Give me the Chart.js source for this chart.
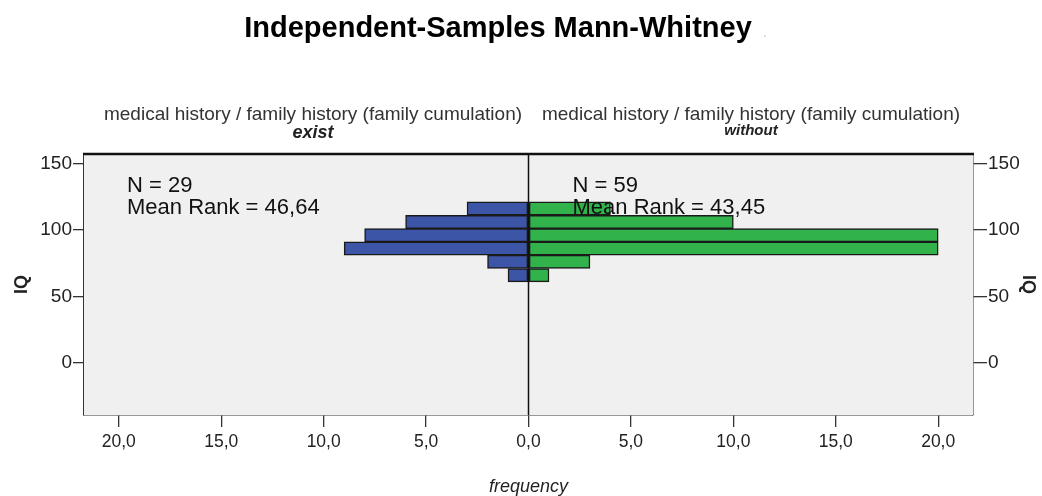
<!DOCTYPE html>
<html>
<head>
<meta charset="utf-8">
<script src="https://cdn.jsdelivr.net/npm/chart.js@4"></script>
<style>
  html, body { margin: 0; padding: 0; background: #fff; }
  #wrap { width: 1042px; height: 496px; }
</style>
</head>
<body>
<div id="wrap"><canvas id="myChart"></canvas></div>
<script>
// Data
const iqBins = [66, 76, 86, 96, 106, 116];       // IQ class midpoints (width 10)
const existCounts = [1, 2, 9, 8, 6, 3];           // family history: exist
const withoutCounts = [1, 3, 20, 20, 10, 4];      // family history: without
const freqTicks = [-20, -15, -10, -5, 0, 5, 10, 15, 20];
const iqTicks = [0, 50, 100, 150];
const groupStats = [
  { n: 'N = 29', rank: 'Mean Rank = 46,64' },
  { n: 'N = 59', rank: 'Mean Rank = 43,45' },
];

const FONT = "'Liberation Sans', Arial, sans-serif";

// background, frame, centre line and the texts around the plot
const decor = {
  id: 'decor',
  beforeDatasetsDraw(chart) {
    const { ctx, chartArea: a } = chart;
    ctx.save();
    ctx.fillStyle = '#f0f0f0';
    ctx.fillRect(a.left, a.top, a.right - a.left, a.bottom - a.top);
    ctx.restore();
  },
  afterDatasetsDraw(chart) {
    const { ctx, chartArea: a, scales } = chart;
    const x0 = scales.x.getPixelForValue(0);
    ctx.save();
    // zero line
    ctx.strokeStyle = '#111';
    ctx.lineWidth = 1.5;
    ctx.beginPath();
    ctx.moveTo(x0, a.top);
    ctx.lineTo(x0, a.bottom);
    ctx.stroke();
    // top frame line
    ctx.lineWidth = 2.5;
    ctx.beginPath();
    ctx.moveTo(a.left - 1, a.top);
    ctx.lineTo(a.right + 1, a.top);
    ctx.stroke();

    // N / mean rank
    ctx.fillStyle = '#111';
    ctx.font = '22px ' + FONT;
    ctx.textAlign = 'left';
    ctx.textBaseline = 'alphabetic';
    const lefts = [a.left + 43, x0 + 44];
    groupStats.forEach((g, i) => {
      ctx.fillText(g.n, lefts[i], 192);
      ctx.fillText(g.rank, lefts[i], 214);
    });
    ctx.restore();
  },
  afterDraw(chart) {
    const { ctx } = chart;
    ctx.save();
    ctx.textAlign = 'center';
    ctx.textBaseline = 'alphabetic';
    ctx.fillStyle = '#000';
    ctx.font = 'bold 29px ' + FONT;
    ctx.fillText('Independent-Samples Mann-Whitney', 498, 37);
    ctx.fillStyle = '#bbb';
    ctx.font = '12px ' + FONT;
    ctx.fillText('.', 765, 37);

    ctx.fillStyle = '#333';
    ctx.font = '19px ' + FONT;
    ctx.fillText('medical history / family history (family cumulation)', 313, 120);
    ctx.fillText('medical history / family history (family cumulation)', 751, 120);
    ctx.fillStyle = '#222';
    ctx.font = 'italic bold 18px ' + FONT;
    ctx.fillText('exist', 313, 138);
    ctx.font = 'italic bold 15px ' + FONT;
    ctx.fillText('without', 751, 135);
    ctx.restore();
  },
};

const data = {
  datasets: [
    {
      label: 'exist',
      data: iqBins.map((iq, i) => ({ x: -existCounts[i], y: iq })),
      backgroundColor: '#3c55a6',
    },
    {
      label: 'without',
      data: iqBins.map((iq, i) => ({ x: withoutCounts[i], y: iq })),
      backgroundColor: '#31b24b',
    },
  ],
};

const tickFont = { family: FONT, size: 19 };

const config = {
  type: 'bar',
  data,
  plugins: [decor],
  options: {
    indexAxis: 'y',
    responsive: true,
    maintainAspectRatio: false,
    animation: false,
    layout: { padding: { top: 154, left: 0, right: 0, bottom: 0 } },
    datasets: {
      bar: {
        grouped: false,
        barPercentage: 1,
        categoryPercentage: 1,
        borderColor: '#1a1a1a',
        borderWidth: 1.5,
        borderSkipped: false,
      },
    },
    plugins: {
      legend: { display: false },
      tooltip: { enabled: false },
    },
    scales: {
      x: {
        type: 'linear',
        min: -21.7,
        max: 21.7,
        offset: false,
        afterBuildTicks: (s) => { s.ticks = freqTicks.map((v) => ({ value: v })); },
        afterFit: (s) => { s.height = 81; },
        ticks: {
          color: '#222',
          font: { family: FONT, size: 17.5 },
          padding: 5,
          maxRotation: 0,
          callback: (v) => Math.abs(v).toFixed(1).replace('.', ','),
        },
        grid: { offset: false, drawOnChartArea: false, color: '#333', tickLength: 12, lineWidth: 1.3 },
        border: { color: '#333', width: 1.5 },
        title: {
          display: true,
          text: 'frequency',
          color: '#222',
          font: { family: FONT, size: 18, style: 'italic', lineHeight: 1 },
          padding: { top: 0, bottom: 0 },
        },
      },
      y: {
        type: 'linear',
        position: 'left',
        min: -39,
        max: 157,
        offset: false,
        afterBuildTicks: (s) => { s.ticks = iqTicks.map((v) => ({ value: v })); },
        afterFit: (s) => { s.width = 84; },
        ticks: { color: '#222', font: tickFont, padding: 1 },
        grid: { offset: false, drawOnChartArea: false, color: '#333', tickLength: 11, lineWidth: 1.3 },
        border: { color: '#333', width: 1.5 },
        title: {
          display: true,
          text: 'IQ',
          color: '#222',
          font: { family: FONT, size: 18, weight: 'bold' },
          padding: { top: 11, bottom: 0 },
        },
      },
      y2: {
        type: 'linear',
        position: 'right',
        min: -39,
        max: 157,
        offset: false,
        afterBuildTicks: (s) => { s.ticks = iqTicks.map((v) => ({ value: v })); },
        afterFit: (s) => { s.width = 69; },
        ticks: { color: '#222', font: tickFont, padding: 1 },
        grid: { offset: false, drawOnChartArea: false, color: '#333', tickLength: 14, lineWidth: 1.3 },
        border: { color: '#333', width: 1.5 },
        title: {
          display: true,
          text: 'IQ',
          color: '#222',
          font: { family: FONT, size: 18, weight: 'bold' },
          padding: { top: 3, bottom: 0 },
        },
      },
    },
  },
};

const myChart = new Chart(document.getElementById('myChart'), config);
</script>
</body>
</html>
